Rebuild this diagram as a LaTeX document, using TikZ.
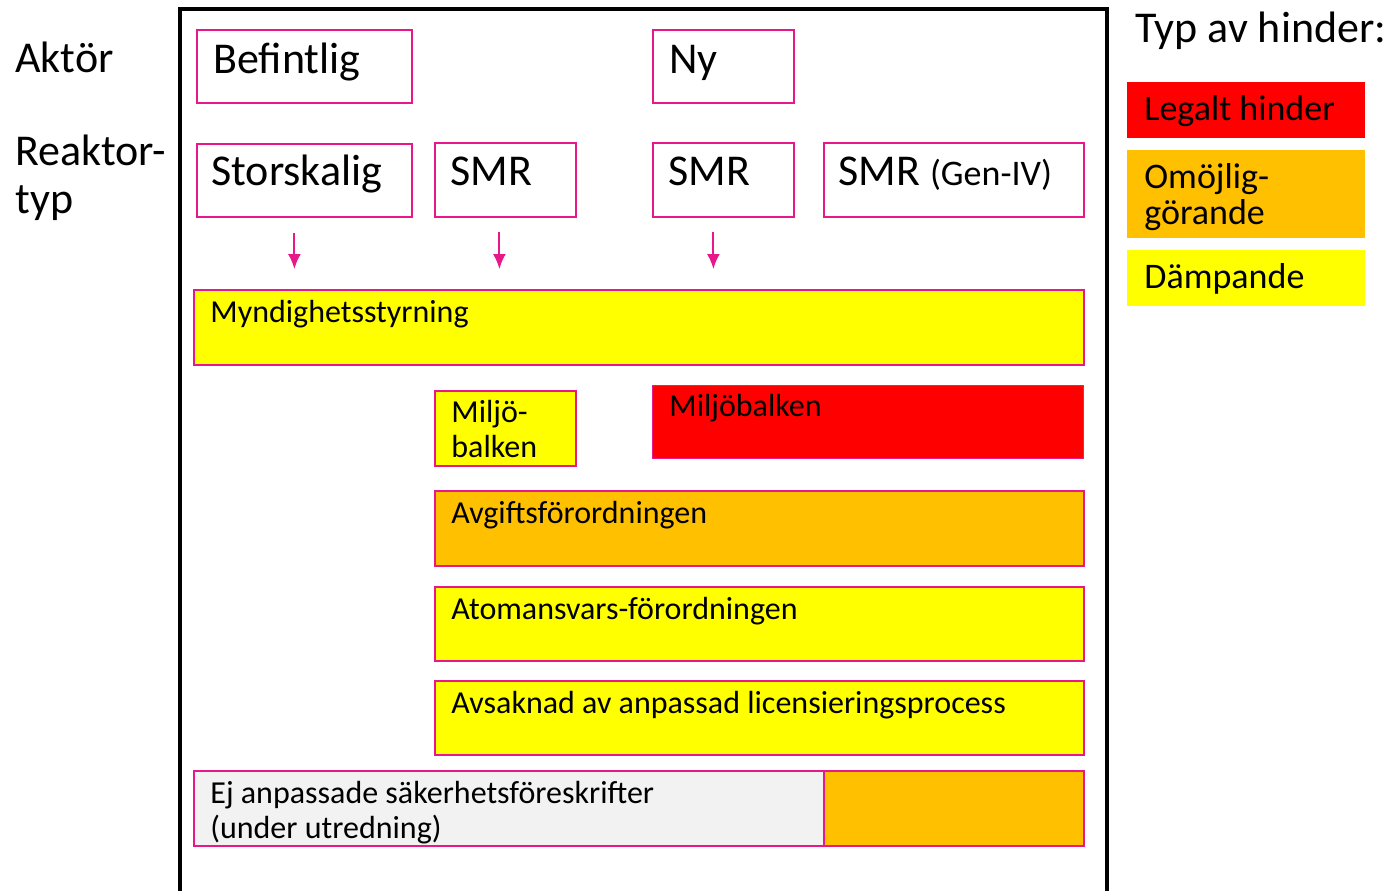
\documentclass[tikz,border=0pt]{standalone}
\usepackage{fontspec}
\setmainfont{Carlito}
\definecolor{hpink}{RGB}{232,23,138}
\definecolor{hred}{RGB}{255,0,0}
\definecolor{horange}{RGB}{255,192,0}
\definecolor{hyellow}{RGB}{255,255,0}
\definecolor{hgray}{RGB}{242,242,242}
\tikzset{
  box/.style={draw=hpink,line width=0.9pt,anchor=north west,inner sep=0pt},
  bar/.style={box},
  keybox/.style={draw=none,anchor=north west,inner sep=0pt},
  txt/.style={anchor=base west,inner sep=0pt,font=\fontsize{16}{17.5}\selectfont,align=left},
  bigtxt/.style={anchor=base west,inner sep=0pt,font=\fontsize{22}{24}\selectfont,align=left},
  keytxt/.style={anchor=base west,inner sep=0pt,font=\fontsize{18}{18}\selectfont,align=left},
  pinkarrow/.style={draw=hpink,line width=1pt,-{Latex[length=7.5pt,width=6.5pt]}},
}
\usetikzlibrary{arrows.meta}
\begin{document}
\begin{tikzpicture}[x=0.5pt,y=-0.5pt]
\useasboundingbox (0,0) rectangle (1398,890);
%% frame
\draw [line width=2pt] (180,900) -- (180,9) -- (1107,9) -- (1107,900);
%% row labels
\node (lbl_aktor) at (15,72) [bigtxt] {Aktör};
\node (lbl_typ) at (15,213) [bigtxt,font=\fontsize{22}{24}\selectfont] {Reaktor-\\typ};
%% actors and reactor types
\node (befintlig) at (196,29) [box,minimum width=107.5pt,minimum height=36.5pt] {};
\node at (213,73) [bigtxt] {Befintlig};
\node (ny) at (652,29) [box,minimum width=70.5pt,minimum height=36.5pt] {};
\node at (669,73) [bigtxt] {Ny};
\node (stor) at (196,143) [box,minimum width=107.5pt,minimum height=36.5pt] {};
\node at (211,185) [bigtxt] {Storskalig};
\node (smr_a) at (434,142) [box,minimum width=70.5pt,minimum height=37pt] {};
\node at (450,185) [bigtxt] {SMR};
\node (smr_b) at (652,142) [box,minimum width=70.5pt,minimum height=37pt] {};
\node at (668,185) [bigtxt] {SMR};
\node (smr_gen) at (823,142) [box,minimum width=130pt,minimum height=37pt] {};
\node at (838,185) [bigtxt] {SMR \fontsize{18}{20}\selectfont(Gen-IV)};
%% barriers
\node (mynd) at (193,289) [bar,fill=hyellow,minimum width=445pt,minimum height=37.5pt] {};
\node at (210,322) [txt] {Myndighetsstyrning};
\node (miljo_a) at (434,390) [bar,fill=hyellow,minimum width=70.5pt,minimum height=37.5pt] {};
\node at (451,457) [txt] {Miljö-\\balken};
\node (miljo_b) at (652,385) [bar,fill=hred,line width=0.4pt,minimum width=215.5pt,minimum height=36.5pt] {};
\node at (669,416) [txt] {Miljöbalken};
\node (avgift) at (434,490) [bar,fill=horange,minimum width=324.5pt,minimum height=37.5pt] {};
\node at (451,523) [txt] {Avgiftsförordningen};
\node (atom) at (434,586) [bar,fill=hyellow,minimum width=324.5pt,minimum height=37pt] {};
\node at (451,619) [txt] {Atomansvars-förordningen};
\node (avsak) at (434,680) [bar,fill=hyellow,minimum width=324.5pt,minimum height=37pt] {};
\node at (451,713) [txt] {Avsaknad av anpassad licensieringsprocess};
\node (sakerhet) at (193,770) [bar,fill=hgray,minimum width=315pt,minimum height=37.5pt] {};
\node (sakerhet_gen) at (823,770) [bar,fill=horange,minimum width=130pt,minimum height=37.5pt] {};
\node at (210,838) [txt] {Ej anpassade säkerhetsföreskrifter\\(under utredning)};
%% arrows
\draw [pinkarrow,shorten <=7.5pt,shorten >=10pt] ([xshift=-5pt]stor.south) -- ([xshift=-5pt]stor.south |- mynd.north);
\draw [pinkarrow,shorten <=7pt,shorten >=10pt] ([xshift=-3pt]smr_a.south) -- ([xshift=-3pt]smr_a.south |- mynd.north);
\draw [pinkarrow,shorten <=7pt,shorten >=10pt] ([xshift=-5pt]smr_b.south) -- ([xshift=-5pt]smr_b.south |- mynd.north);
%% legend
\node at (1135,42) [bigtxt] {Typ av hinder:};
\node (key_red) at (1127,82) [keybox,fill=hred,minimum width=119pt,minimum height=28pt] {};
\node at (1144,120) [keytxt] {Legalt hinder};
\node (key_orange) at (1127,150) [keybox,fill=horange,minimum width=119pt,minimum height=44pt] {};
\node at (1144,224) [keytxt] {Omöjlig-\\görande};
\node (key_yellow) at (1127,250) [keybox,fill=hyellow,minimum width=119pt,minimum height=28pt] {};
\node at (1144,288) [keytxt] {Dämpande};
%
\end{tikzpicture}
\end{document}
